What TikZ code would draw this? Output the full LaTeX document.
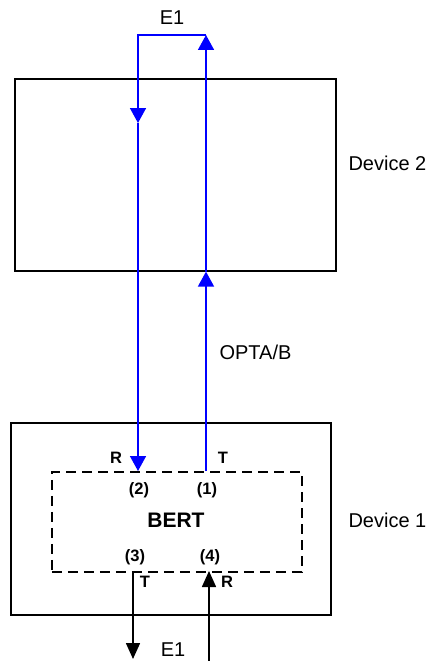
\documentclass[tikz,border=0pt]{standalone}
\usepackage{fontspec}
\setmainfont{Liberation Sans}
\usetikzlibrary{arrows.meta}

\tikzset{
  box/.style={draw, line width=1.6pt, anchor=north west},
  dashbox/.style={draw, line width=1.6pt, dash pattern=on 10pt off 6pt, anchor=north west},
  bigtxt/.style={font=\fontsize{20}{24}\selectfont},
  smalltxt/.style={font=\bfseries\fontsize{16.5}{19}\selectfont},
  bluearr/.style={blue, line width=1.6pt, -{Triangle[length=15pt, width=16pt]}},
  blackarr/.style={black, line width=1.6pt, -{Triangle[length=16pt, width=14pt]}}
}

\begin{document}
\begin{tikzpicture}[x=1pt, y=-1pt]
    \useasboundingbox (0,0) rectangle (428,661);

    % Apparati
    \node[box, minimum width=321pt, minimum height=192pt] (dev2) at (14,78) {};
    \node[box, minimum width=320pt, minimum height=192pt] (dev1) at (10,422) {};
    \node[dashbox, minimum width=250pt, minimum height=100pt] (bert) at (51,471) {};
    \node[bigtxt, anchor=west] (lab2) at (345,163) {Device 2};
    \node[bigtxt, anchor=west] (lab1) at (345,520) {Device 1};
    \node[font=\bfseries\fontsize{21}{25}\selectfont] (bertlab) at (176,520) {BERT};

    % Punti di collegamento
    \coordinate (loopL) at (138,35);
    \coordinate (loopR) at (206,35);
    \coordinate (midL) at (138,123);
    \coordinate (p2) at (bert.north -| loopL);
    \coordinate (p1) at (bert.north -| loopR);
    \coordinate (p3) at (133,571);
    \coordinate (p4) at (209,571);
    \coordinate (outL) at (133,659);
    \coordinate (inR) at (209,661);

    % Anello E1 e fibra OPTA/B
    \draw[bluearr] (loopR) -- (loopL) -- (midL);
    \draw[bluearr] (midL) -- (p2);
    \draw[bluearr] (p1) -- (dev2.south -| p1);
    \draw[bluearr] (dev2.south -| p1) -- (loopR);
    \node[bigtxt] (e1top) at (172,18) {E1};
    \node[bigtxt, anchor=west] (opta) at (216,352) {OPTA/B};

    % Porte del BERT
    \node[smalltxt] (r2) at (116,458) {R};
    \node[smalltxt] (t1) at (223,458) {T};
    \node[smalltxt] (n2) at (139,490) {(2)};
    \node[smalltxt] (n1) at (207,490) {(1)};
    \node[smalltxt] (n3) at (135,557) {(3)};
    \node[smalltxt] (n4) at (210,557) {(4)};
    \node[smalltxt] (t3) at (145,582) {T};
    \node[smalltxt] (r4) at (227,582) {R};

    % E1 lato Device 1
    \draw[blackarr] (p3) -- (outL);
    \draw[blackarr] (inR) -- (p4);
    \node[bigtxt, inner sep=0pt] (e1bot) at (173,650) {E1};
\end{tikzpicture}
\end{document}
